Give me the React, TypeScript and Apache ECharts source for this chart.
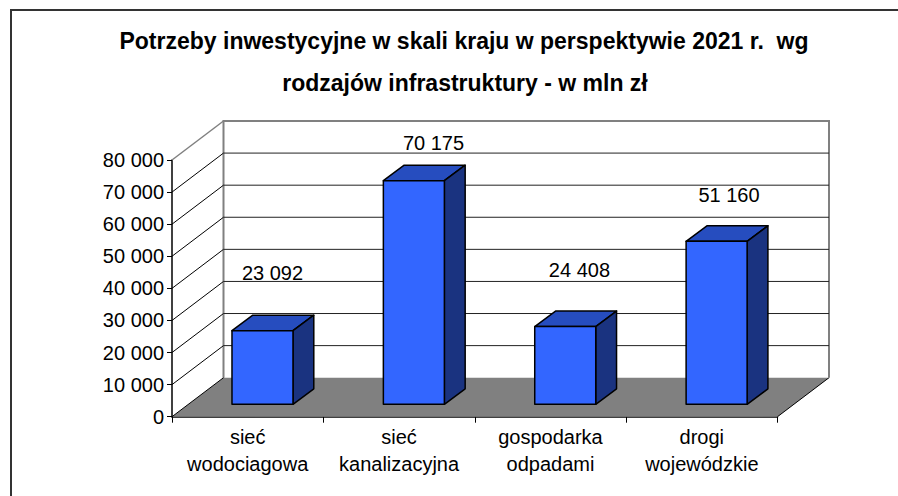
import React, { useEffect, useRef } from "react";
import * as echarts from "echarts";

const titleLines = ["Potrzeby inwestycyjne w skali kraju w perspektywie 2021 r.  wg", "rodzajów infrastruktury - w mln zł"];
const categories = ["sieć\nwodociagowa", "sieć\nkanalizacyjna", "gospodarka\nodpadami", "drogi\nwojewódzkie"];
const values = [23092, 70175, 24408, 51160];
const yTicks = [0, 10000, 20000, 30000, 40000, 50000, 60000, 70000, 80000];

const FONT = '"Liberation Sans", Arial, sans-serif';
const DX = 51.5;
const DY = -39;
const fmt = (v: number) => String(v).replace(/\B(?=(\d{3})+$)/g, " ");
const labelNudgeX = [10.3, 19.9, 14.5, 12.7];

function renderWall(params: any, api: any) {
  const c = params.coordSys;
  const v = api.value(1);
  const y = api.coord([0, v])[1];
  const x0 = c.x;
  const x1 = c.x + c.width;
  const children: any[] = [];
  if (v === 0) {
    const top = c.y + DY;
    children.push(
      { type: "polygon", shape: { points: [[x0, y], [x1, y], [x1 + DX, y + DY], [x0 + DX, y + DY]] }, style: { fill: "#808080", stroke: "none" } },
      { type: "line", shape: { x1: x1, y1: y, x2: x1 + DX, y2: y + DY }, style: { stroke: "#000", lineWidth: 1 } },
      { type: "polyline", shape: { points: [[x0 + DX, y + DY], [x0 + DX, top], [x1 + DX, top], [x1 + DX, y + DY]] }, style: { stroke: "#808080", lineWidth: 2, fill: "none" } },
      { type: "line", shape: { x1: x0, y1: y, x2: x0 + DX, y2: y + DY }, style: { stroke: "#000", lineWidth: 1 } }
    );
  } else if (v === 80000) {
    children.push({ type: "line", shape: { x1: x0, y1: y, x2: x0 + DX, y2: y + DY }, style: { stroke: "#808080", lineWidth: 1.5 } });
  } else {
    children.push(
      { type: "line", shape: { x1: x0, y1: y, x2: x0 + DX, y2: y + DY }, style: { stroke: "#000", lineWidth: 1 } },
      { type: "line", shape: { x1: x0 + DX, y1: y + DY, x2: x1 + DX, y2: y + DY }, style: { stroke: "#222", lineWidth: 1 } }
    );
  }
  return { type: "group", children };
}

function renderBar(params: any, api: any) {
  const i = api.value(0);
  const v = api.value(1);
  const [cx, yTop] = api.coord([i, v]);
  const [, yBase] = api.coord([i, 0]);
  const band = api.size([1, 0])[0];
  const w = band * 0.403;
  const depthX = 20.8;
  const depthY = -15.5;
  const left = cx + 14.8 - w / 2;
  const right = left + w;
  const bottom = yBase - 12.4;
  const top = bottom - (yBase - yTop) * 0.993;
  const edge = { stroke: "#000", lineWidth: 1.5, lineJoin: "round" };
  const labelY = yTop - (69.4 - (v - 23092) * 0.000437);
  return {
    type: "group",
    children: [
      { type: "polygon", shape: { points: [[left, top], [right, top], [right + depthX, top + depthY], [left + depthX, top + depthY]] }, style: { fill: "#264DBF", ...edge } },
      { type: "polygon", shape: { points: [[right, bottom], [right, top], [right + depthX, top + depthY], [right + depthX, bottom + depthY]] }, style: { fill: "#1A3380", ...edge } },
      { type: "rect", shape: { x: left, y: top, width: w, height: bottom - top }, style: { fill: "#3366FF", ...edge } },
      { type: "text", style: { text: fmt(v), x: cx + 14.5 + labelNudgeX[i], y: labelY, fill: "#000", font: `20px ${FONT}`, textAlign: "center", textVerticalAlign: "middle" } },
    ],
  };
}

export default function App() {
  const ref = useRef<HTMLDivElement>(null);
  useEffect(() => {
    const chart = echarts.init(ref.current!, null, { renderer: "svg" });
    chart.setOption({
      animation: false,
      backgroundColor: "#fff",
      graphic: [
        { type: "polyline", silent: true, shape: { points: [[11, 496], [11, 10], [898, 10]] }, style: { stroke: "#333", lineWidth: 2, fill: "none" } },
        { type: "text", style: { text: titleLines[0], x: 464, y: 41, fill: "#000", font: `bold 23px ${FONT}`, textAlign: "center", textVerticalAlign: "middle" } },
        { type: "text", style: { text: titleLines[1], x: 465, y: 83, fill: "#000", font: `bold 23px ${FONT}`, textAlign: "center", textVerticalAlign: "middle" } },
      ],
      grid: { left: 172, top: 160, width: 605.5, height: 256.7 },
      xAxis: {
        type: "category",
        data: categories,
        axisLine: { lineStyle: { color: "#000", width: 1.5 } },
        axisTick: { show: true, length: 6, lineStyle: { color: "#000" } },
        axisLabel: { color: "#000", fontFamily: FONT, fontSize: 20, lineHeight: 27, margin: 7, interval: 0 },
      },
      yAxis: {
        type: "value",
        min: 0,
        max: 80000,
        interval: 10000,
        axisLine: { show: true, lineStyle: { color: "#000", width: 1.5 } },
        axisTick: { show: true, length: 5, lineStyle: { color: "#000" } },
        axisLabel: { color: "#000", fontFamily: FONT, fontSize: 20, margin: 8, formatter: (v: number) => fmt(v) },
        splitLine: { show: false },
      },
      series: [
        { type: "custom", clip: false, z: 1, silent: true, renderItem: renderWall, encode: { x: 0, y: 1 }, data: yTicks.map((t) => [0, t]) },
        { type: "custom", clip: false, z: 2, silent: true, renderItem: renderBar, encode: { x: 0, y: 1 }, data: values.map((v, i) => [i, v]) },
      ],
    });
    return () => chart.dispose();
  }, []);
  return <div ref={ref} style={{ position: "fixed", left: 0, top: 0, width: 898, height: 496 }} />;
}
